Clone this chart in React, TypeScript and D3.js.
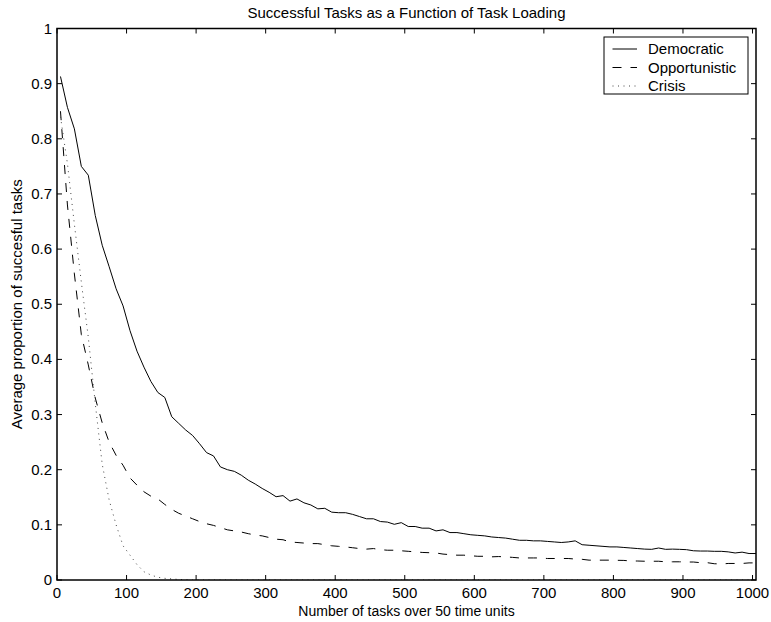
import React from "react";
import * as d3 from "d3";

const xValues: number[] = d3.range(5, 1006, 10);

const democratic: number[] = [
  0.913, 0.857, 0.818, 0.750, 0.734, 0.661, 0.607, 0.568, 0.528, 0.497,
  0.452, 0.415, 0.386, 0.360, 0.340, 0.331, 0.296, 0.284, 0.272, 0.262,
  0.247, 0.231, 0.225, 0.205, 0.200, 0.197, 0.190, 0.181, 0.174, 0.166,
  0.159, 0.151, 0.153, 0.143, 0.147, 0.140, 0.136, 0.129, 0.130, 0.123,
  0.122, 0.122, 0.119, 0.115, 0.111, 0.111, 0.106, 0.105, 0.101, 0.104,
  0.097, 0.097, 0.094, 0.094, 0.089, 0.091, 0.086, 0.086, 0.084, 0.082,
  0.081, 0.080, 0.078, 0.077, 0.076, 0.074, 0.072, 0.072, 0.071, 0.071,
  0.070, 0.069, 0.068, 0.069, 0.071, 0.064, 0.063, 0.062, 0.061, 0.060,
  0.060, 0.059, 0.058, 0.057, 0.056, 0.0556, 0.058, 0.0556, 0.056, 0.0556,
  0.055, 0.053, 0.0525, 0.0525, 0.052, 0.052, 0.051, 0.049, 0.0505, 0.048,
  0.048,
];

const opportunistic: number[] = [
  0.85, 0.68, 0.555, 0.445, 0.39, 0.33, 0.285, 0.25, 0.226, 0.208,
  0.185, 0.172, 0.16, 0.152, 0.147, 0.137, 0.128, 0.121, 0.116, 0.111,
  0.106, 0.102, 0.099, 0.095, 0.091, 0.089, 0.087, 0.084, 0.0815, 0.080,
  0.077, 0.074, 0.073, 0.069, 0.068, 0.067, 0.066, 0.066, 0.064, 0.062,
  0.061, 0.060, 0.0585, 0.057, 0.056, 0.057, 0.055, 0.054, 0.054, 0.053,
  0.052, 0.051, 0.050, 0.0495, 0.049, 0.047, 0.046, 0.045, 0.045, 0.044,
  0.043, 0.043, 0.042, 0.0425, 0.042, 0.041, 0.040, 0.040, 0.040, 0.040,
  0.039, 0.039, 0.039, 0.039, 0.038, 0.0375, 0.036, 0.036, 0.036, 0.036,
  0.0357, 0.0355, 0.0345, 0.0344, 0.034, 0.034, 0.034, 0.033, 0.033, 0.033,
  0.0326, 0.0326, 0.0314, 0.0314, 0.0295, 0.029, 0.030, 0.030, 0.030, 0.031,
  0.031,
];

const crisis: number[] = [
  0.84, 0.755, 0.645, 0.54, 0.44, 0.32, 0.21, 0.145, 0.10, 0.062,
  0.045, 0.028, 0.015, 0.009, 0.005, 0.003, 0.002, 0.001, 0.0005, 0,
  0, 0, 0, 0, 0, 0, 0, 0, 0, 0,
  0, 0, 0, 0, 0, 0, 0, 0, 0, 0,
  0, 0, 0, 0, 0, 0, 0, 0, 0, 0,
  0, 0, 0, 0, 0, 0, 0, 0, 0, 0,
  0, 0, 0, 0, 0, 0, 0, 0, 0, 0,
  0, 0, 0, 0, 0, 0, 0, 0, 0, 0,
  0, 0, 0, 0, 0, 0, 0, 0, 0, 0,
  0, 0, 0, 0, 0, 0, 0, 0, 0, 0,
  0,
];

const xTicks: number[] = [0, 100, 200, 300, 400, 500, 600, 700, 800, 900, 1000];
const yTicks: number[] = [0, 0.1, 0.2, 0.3, 0.4, 0.5, 0.6, 0.7, 0.8, 0.9, 1];

const seriesNames: string[] = ["Democratic", "Opportunistic", "Crisis"];

const title = "Successful Tasks as a Function of Task Loading";
const xLabel = "Number of tasks over 50 time units";
const yLabel = "Average proportion of succesful tasks";

export default function App() {
  const W = 771;
  const H = 622;
  const left = 57;
  const right = 756;
  const top = 28.5;
  const bottom = 580;
  const font = "'Liberation Sans', Arial, Helvetica, sans-serif";
  const fs = 15;

  const x = d3.scaleLinear().domain([0, 1005]).range([left, right]);
  const y = d3.scaleLinear().domain([0, 1]).range([bottom, top]);

  const line = d3
    .line<number>()
    .x((_, i) => x(xValues[i]))
    .y((d) => y(d));

  const series = [
    { name: seriesNames[0], data: democratic, dash: undefined as string | undefined, color: "#000", width: 1 },
    { name: seriesNames[1], data: opportunistic, dash: "9,9", color: "#000", width: 1 },
    { name: seriesNames[2], data: crisis, dash: "1,4.5", color: "#444", width: 1 },
  ];

  const tickLen = 5;
  const legX = 604;
  const legY = 37;
  const legW = 144;
  const legH = 57;
  const rowY = [49, 67.5, 86];

  return (
    <svg width={W} height={H} style={{ position: "absolute", left: 0, top: 0, background: "#fff" }}>
      <rect x={0} y={0} width={W} height={H} fill="#fff" />
      <defs>
        <clipPath id="plotclip">
          <rect x={left} y={top} width={right - left} height={bottom - top} />
        </clipPath>
      </defs>
      <g clipPath="url(#plotclip)">
        {series.map((s) => (
          <path
            key={s.name}
            d={line(s.data) || ""}
            fill="none"
            stroke={s.color}
            strokeWidth={s.width}
            strokeDasharray={s.dash}
          />
        ))}
      </g>
      {xTicks.map((t) => (
        <g key={"xt" + t}>
          <line x1={x(t)} x2={x(t)} y1={bottom} y2={bottom - tickLen} stroke="#000" />
          <line x1={x(t)} x2={x(t)} y1={top} y2={top + tickLen} stroke="#000" />
          <text x={x(t)} y={bottom + 18} textAnchor="middle" fontFamily={font} fontSize={fs} fill="#000">
            {t}
          </text>
        </g>
      ))}
      {yTicks.map((t) => (
        <g key={"yt" + t}>
          <line x1={left} x2={left + tickLen} y1={y(t)} y2={y(t)} stroke="#000" />
          <line x1={right} x2={right - tickLen} y1={y(t)} y2={y(t)} stroke="#000" />
          <text x={left - 5} y={y(t) + 5} textAnchor="end" fontFamily={font} fontSize={fs} fill="#000">
            {String(t)}
          </text>
        </g>
      ))}
      <rect x={left} y={top} width={right - left} height={bottom - top} fill="none" stroke="#000" strokeWidth={1.5} />
      <text x={(left + right) / 2} y={18} textAnchor="middle" fontFamily={font} fontSize={fs} fill="#000">
        {title}
      </text>
      <text x={(left + right) / 2} y={616} textAnchor="middle" fontFamily={font} fontSize={14} fill="#000">
        {xLabel}
      </text>
      <text
        transform={`translate(22,${(top + bottom) / 2}) rotate(-90)`}
        textAnchor="middle"
        fontFamily={font}
        fontSize={fs}
        fill="#000"
      >
        {yLabel}
      </text>
      <rect x={legX} y={legY} width={legW} height={legH} fill="#fff" stroke="#000" strokeWidth={1} />
      {series.map((s, i) => (
        <g key={"leg" + s.name}>
          <line
            x1={612.5}
            x2={637}
            y1={rowY[i]}
            y2={rowY[i]}
            stroke={s.color}
            strokeWidth={s.width}
            strokeDasharray={s.dash}
          />
          <text x={648} y={rowY[i] + 5} fontFamily={font} fontSize={fs} fill="#000">
            {s.name}
          </text>
        </g>
      ))}
    </svg>
  );
}
